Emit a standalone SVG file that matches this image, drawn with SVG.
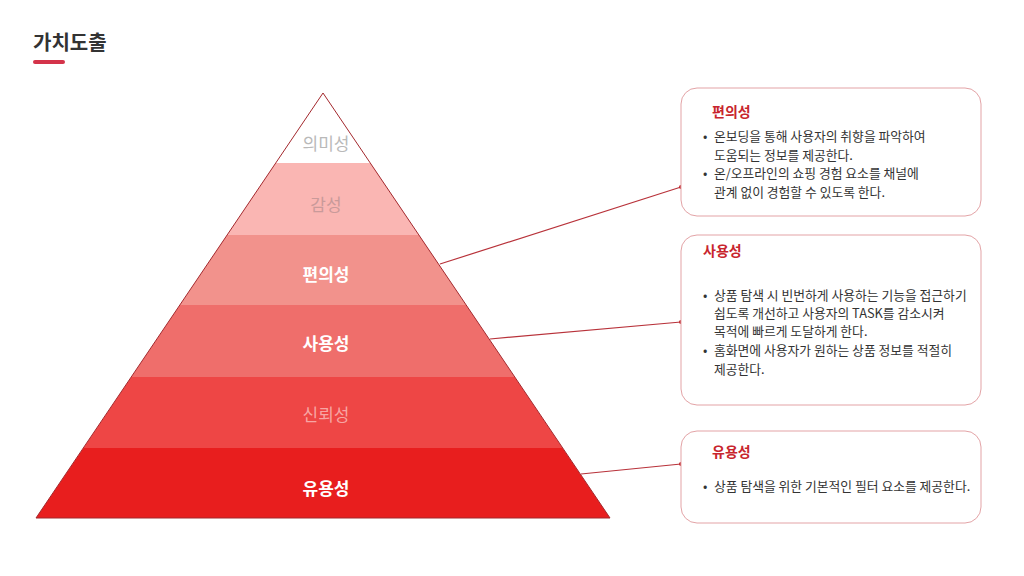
<svg xmlns="http://www.w3.org/2000/svg" width="1024" height="576" viewBox="0 0 1024 576">
<style>
.t{font-family:"Noto Sans CJK KR","Noto Sans",sans-serif}
.title{font-size:20px;font-weight:700;fill:#333}
.lbl{font-size:17px;text-anchor:middle}
.b{font-weight:700;fill:#fff}
.box{fill:#fff;stroke:#e3a3a6;stroke-width:1}
.bt{font-size:14px;font-weight:700;fill:#c8252d}
.tx{font-size:12.8px;fill:#333}
.con{stroke:#b8323a;stroke-width:1.2;fill:none}
.dot{fill:#c0272d}
</style>
<rect width="1024" height="576" fill="#fff"/>
<text class="t title" x="33" y="50">가치도출</text>
<line x1="35" y1="62" x2="63" y2="62" stroke="#d4334a" stroke-width="4" stroke-linecap="round"/>

<g id="pyramid">
<polygon points="323,93 370.3,163 275.7,163" fill="#fff"/>
<polygon points="275.7,163 370.3,163 418.9,235 227.1,235" fill="#fab6b3"/>
<polygon points="227.1,235 418.9,235 466.1,305 179.9,305" fill="#f2928c"/>
<polygon points="179.9,305 466.1,305 514.7,377 131.3,377" fill="#ef6e6b"/>
<polygon points="131.3,377 514.7,377 562.6,448 83.4,448" fill="#ee4645"/>
<polygon points="83.4,448 562.6,448 610,518 36,518" fill="#e81e1e"/>
<polygon points="323,93 610,518 36,518" fill="none" stroke="#a3282d" stroke-width="1"/>
<text class="t lbl" x="326" y="150" fill="#b9b9b9">의미성</text>
<text class="t lbl" x="326" y="211" fill="#c99a9a">감성</text>
<text class="t lbl b" x="326" y="281">편의성</text>
<text class="t lbl b" x="326" y="350">사용성</text>
<text class="t lbl" x="326" y="421" fill="#f7a5a3">신뢰성</text>
<text class="t lbl b" x="326" y="495">유용성</text>
</g>

<g id="connectors">
<line class="con" x1="440" y1="264" x2="681" y2="187"/>
<circle class="dot" cx="681" cy="187" r="2"/>
<line class="con" x1="490" y1="339" x2="681" y2="322"/>
<circle class="dot" cx="681" cy="322" r="2"/>
<line class="con" x1="581" y1="474" x2="681" y2="464"/>
<circle class="dot" cx="681" cy="464" r="2"/>
</g>

<g id="box-convenience">
<rect class="box" x="681" y="88" width="300" height="128" rx="16"/>
<text class="t bt" x="712" y="117">편의성</text>
<text class="t tx" x="703" y="141">•</text>
<text class="t tx" x="714" y="141">온보딩을 통해 사용자의 취향을 파악하여</text>
<text class="t tx" x="714" y="160">도움되는 정보를 제공한다.</text>
<text class="t tx" x="703" y="178">•</text>
<text class="t tx" x="714" y="178">온/오프라인의 쇼핑 경험 요소를 채널에</text>
<text class="t tx" x="714" y="197">관계 없이 경험할 수 있도록 한다.</text>
</g>

<g id="box-usability">
<rect class="box" x="681" y="235" width="300" height="170" rx="16"/>
<text class="t bt" x="703" y="256">사용성</text>
<text class="t tx" x="703" y="300">•</text>
<text class="t tx" x="714" y="300">상품 탐색 시 빈번하게 사용하는 기능을 접근하기</text>
<text class="t tx" x="714" y="318">쉽도록 개선하고 사용자의 TASK를 감소시켜</text>
<text class="t tx" x="714" y="336">목적에 빠르게 도달하게 한다.</text>
<text class="t tx" x="703" y="355">•</text>
<text class="t tx" x="714" y="355">홈화면에 사용자가 원하는 상품 정보를 적절히</text>
<text class="t tx" x="714" y="374">제공한다.</text>
</g>

<g id="box-utility">
<rect class="box" x="681" y="431" width="300" height="92" rx="16"/>
<text class="t bt" x="712" y="457">유용성</text>
<text class="t tx" x="703" y="491">•</text>
<text class="t tx" x="714" y="491">상품 탐색을 위한 기본적인 필터 요소를 제공한다.</text>
</g>
</svg>
